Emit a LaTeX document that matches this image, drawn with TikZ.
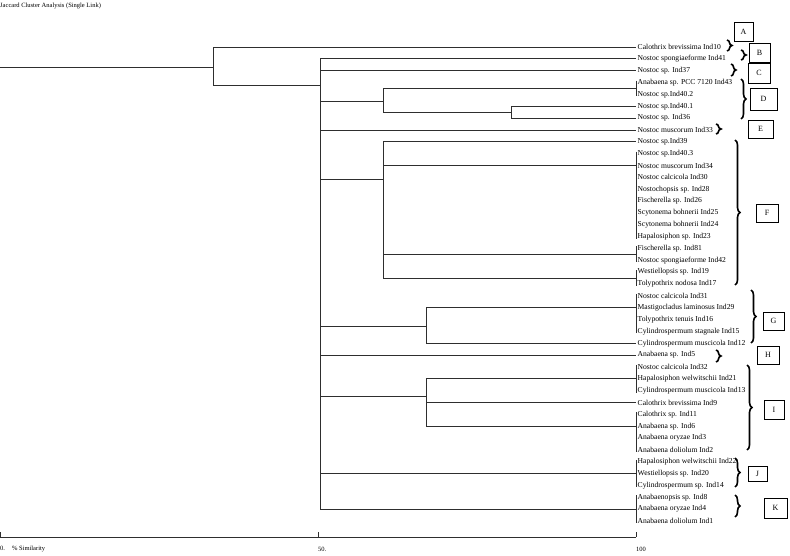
\documentclass[tikz,border=0pt]{standalone}
\usepackage{fontspec}
\setmainfont{Liberation Serif}
\usetikzlibrary{calc,decorations.pathreplacing}
\definecolor{TreeInk}{HTML}{2E2E2E}

\begin{document}
\begin{tikzpicture}[
 x=1pt,y=-1pt,
 font=\fontsize{7.6}{9}\selectfont,
 leaf/.style={anchor=west,inner sep=1.5pt,text=black},
 branch/.style={draw=TreeInk,line width=.8pt},
 tick/.style={draw=TreeInk,line width=.7pt},
 clusterbrace/.style={draw=black,line width=1.6pt,decorate,
   decoration={brace,amplitude=5pt}},
 tagbox/.style={draw=black,line width=.6pt,inner sep=0pt,
   font=\fontsize{8}{9}\selectfont},
 axislabel/.style={anchor=west,inner sep=0pt,font=\fontsize{6.5}{8}\selectfont}
]
 \useasboundingbox (0,0) rectangle (790,556);
 \node[axislabel] (title) at (0,6) {Jaccard Cluster Analysis (Single Link)};
 % taxa, top to bottom
 \foreach \taxon [count=\i] in {Calothrix brevissima Ind10,
   Nostoc spongiaeforme Ind41, Nostoc sp. Ind37, Anabaena sp. PCC 7120 Ind43,
   Nostoc sp.Ind40.2, Nostoc sp.Ind40.1, Nostoc sp. Ind36,
   Nostoc muscorum Ind33, Nostoc sp.Ind39, Nostoc sp.Ind40.3,
   Nostoc muscorum Ind34, Nostoc calcicola Ind30, Nostochopsis sp. Ind28,
   Fischerella sp. Ind26, Scytonema bohnerii Ind25, Scytonema bohnerii Ind24,
   Hapalosiphon sp. Ind23, Fischerella sp. Ind81, Nostoc spongiaeforme Ind42,
   Westiellopsis sp. Ind19, Tolypothrix nodosa Ind17, Nostoc calcicola Ind31,
   Mastigocladus laminosus Ind29, Tolypothrix tenuis Ind16,
   Cylindrospermum stagnale Ind15, Cylindrospermum muscicola Ind12,
   Anabaena sp. Ind5, Nostoc calcicola Ind32, Hapalosiphon welwitschii Ind21,
   Cylindrospermum muscicola Ind13, Calothrix brevissima Ind9,
   Calothrix sp. Ind11, Anabaena sp. Ind6, Anabaena oryzae Ind3,
   Anabaena doliolum Ind2, Hapalosiphon welwitschii Ind22,
   Westiellopsis sp. Ind20, Cylindrospermum sp. Ind14,
   Anabaenopsis sp. Ind8, Anabaena oryzae Ind4, Anabaena doliolum Ind1}
   \node[leaf] (L\i) at (636,{47+(\i-1)*11.85}) {\taxon};
 % joins
 \coordinate (n0) at (0,67);
 \coordinate (n1) at (213,67);
 \coordinate (n2) at (320,85);
 \coordinate (n3) at (383,101);
 \coordinate (n4) at (511,112);
 \coordinate (n5) at (383,179);
 \coordinate (n6) at (426,326);
 \coordinate (n7) at (426,396);
 \coordinate (gD) at ($(L4.west)!.5!(L5.west)$);
 \coordinate (gF1) at (L11.west);
 \coordinate (gF2) at ($(L18.west)!.5!(L19.west)$);
 \coordinate (gF3) at ($(L20.west)!.5!(L21.west)$);
 \coordinate (gG) at (L23.west);
 \coordinate (gI1) at (L29.west);
 \coordinate (gI2) at (L33.west);
 \coordinate (gJ) at (L37.west);
 \coordinate (gK) at (L40.west);
 \draw[branch] (n0) -- (n1);
 \draw[branch] (n1) |- (L1.west);
 \draw[branch] (n1) |- (n2);
 \foreach \kid in {L2.west,L3.west,n3,L8.west,n5,n6,L27.west,n7,gJ,gK}
   \draw[branch] (n2) |- (\kid);
 \foreach \kid in {gD,n4} \draw[branch] (n3) |- (\kid);
 \foreach \kid in {L6.west,L7.west} \draw[branch] (n4) |- (\kid);
 \foreach \kid in {L9.west,gF1,gF2,gF3} \draw[branch] (n5) |- (\kid);
 \foreach \kid in {gG,L26.west} \draw[branch] (n6) |- (\kid);
 \foreach \kid in {gI1,L31.west,gI2} \draw[branch] (n7) |- (\kid);
 % identical taxa
 \foreach \a/\b in {4/5,10/17,18/19,20/21,22/25,28/30,32/35,36/38,39/41}
   \draw[tick] ([yshift=2pt]L\a.west) -- ([yshift=-2pt]L\b.west);
 % cluster braces and tags
 \foreach \bx/\ta/\tb in {727/40/51,741/50/60,731/64/76,741/79/119,
   716/124/134,735/140/285,751/290/343,716/350/362,747/365/450,
   735/458/487,735/495/517}
   \draw[clusterbrace] (\bx,\ta) -- (\bx,\tb);
 \foreach \tag/\cx/\cy/\w/\h in {A/743.5/32/19/19,B/759.5/52.5/21/19,
   C/759/73/22/20,D/763.5/99/27/22,E/760.5/129/25/18,F/767/213/22/18,
   G/773.5/321/21/18,H/768/355/22/18,I/774/409.5/20/19,J/757.5/473.5/19/15,
   K/775.5/508/23/20}
   \node[tagbox,minimum width=\w pt,minimum height=\h pt] (tag\tag)
     at (\cx,\cy) {\tag};
 % similarity axis
 \coordinate (a0) at (0,537);
 \coordinate (a100) at (636,537);
 \draw[branch] (a0) -- (a100);
 \foreach \t in {0,318,636} \draw[tick] (\t,537) -- (\t,532);
 \node[axislabel] (s0) at (0,549) {0.\hspace{7pt}\% Similarity};
 \node[axislabel] (s50) at (318,549) {50.};
 \node[axislabel] (s100) at (636,549) {100};
\end{tikzpicture}
\end{document}
